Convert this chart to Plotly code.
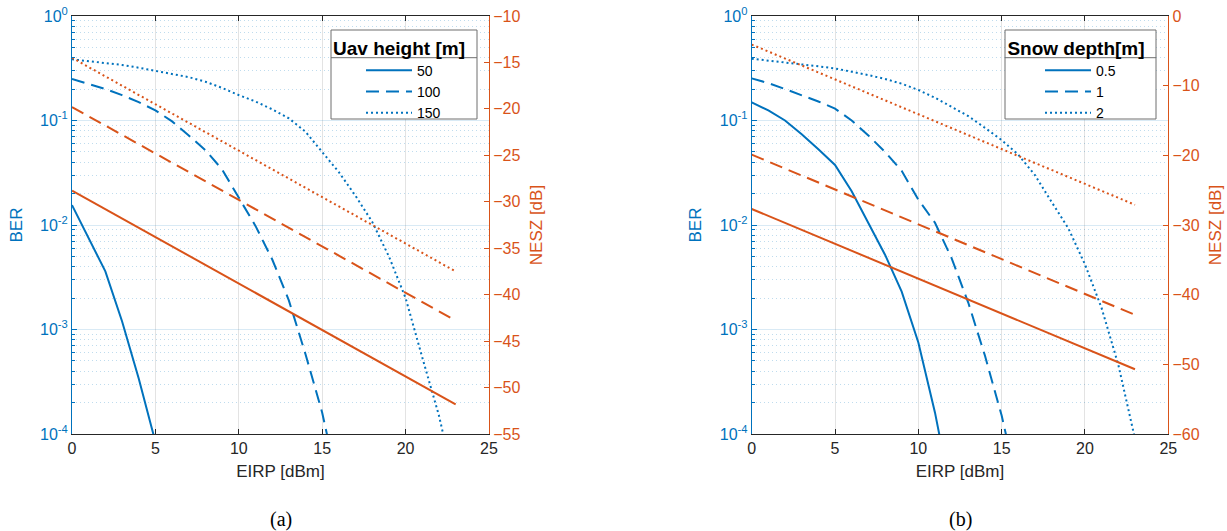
import plotly.graph_objects as go

# ---------------- data ----------------
eirp = list(range(0, 24))

# Panel (a): UAV height
a_labels = ["50", "100", "150"]
a_ber_50 = [0.0155, 0.0076, 0.0036, 0.0012, 3.4e-4, 8.4e-5]
a_ber_100 = [0.25, 0.225, 0.2, 0.175, 0.15, 0.125, 0.098, 0.072, 0.052, 0.034,
             0.018, 0.0098, 0.0047, 0.0019, 5.8e-4, 1.6e-4, 3e-5]
a_ber_150 = [0.385, 0.37, 0.355, 0.34, 0.32, 0.30, 0.28, 0.26, 0.235, 0.205,
             0.175, 0.152, 0.128, 0.105, 0.078, 0.05, 0.032, 0.019, 0.0107, 0.005,
             0.002, 5.4e-4, 1.5e-4, 3e-5]
a_nesz_50 = [-28.8, -29.8, -30.8, -31.8, -32.8, -33.8, -34.8, -35.8, -36.8, -37.8,
             -38.8, -39.8, -40.8, -41.8, -42.8, -43.8, -44.8, -45.8, -46.8, -47.8,
             -48.8, -49.8, -50.8, -51.8]
a_nesz_100 = [-19.8, -20.8, -21.8, -22.8, -23.8, -24.8, -25.8, -26.8, -27.8, -28.8,
              -29.8, -30.8, -31.8, -32.8, -33.8, -34.8, -35.8, -36.8, -37.8, -38.8,
              -39.8, -40.8, -41.8, -42.8]
a_nesz_150 = [-14.5, -15.5, -16.5, -17.5, -18.5, -19.5, -20.5, -21.5, -22.5, -23.5,
              -24.5, -25.5, -26.5, -27.5, -28.5, -29.5, -30.5, -31.5, -32.5, -33.5,
              -34.5, -35.5, -36.5, -37.5]

# Panel (b): snow depth
b_labels = ["0.5", "1", "2"]
b_ber_05 = [0.149, 0.125, 0.1, 0.074, 0.053, 0.0375, 0.021, 0.0105, 0.0052, 0.0023,
            7.5e-4, 1.6e-4, 2.5e-5]
b_ber_1 = [0.253, 0.228, 0.2, 0.175, 0.152, 0.13, 0.1, 0.072, 0.05, 0.033,
           0.0175, 0.0105, 0.0048, 0.0018, 5.6e-4, 1.5e-4, 3e-5]
b_ber_2 = [0.39, 0.375, 0.36, 0.345, 0.33, 0.315, 0.295, 0.272, 0.25, 0.225,
           0.196, 0.165, 0.135, 0.11, 0.085, 0.065, 0.047, 0.03, 0.0166, 0.0093,
           0.0042, 0.0016, 4.6e-4, 9e-5]
b_nesz_05 = [-27.7, -28.7, -29.7, -30.7, -31.7, -32.7, -33.7, -34.7, -35.7, -36.7,
             -37.7, -38.7, -39.7, -40.7, -41.7, -42.7, -43.7, -44.7, -45.7, -46.7,
             -47.7, -48.7, -49.7, -50.7]
b_nesz_1 = [-19.9, -20.9, -21.9, -22.9, -23.9, -24.9, -25.9, -26.9, -27.9, -28.9,
            -29.9, -30.9, -31.9, -32.9, -33.9, -34.9, -35.9, -36.9, -37.9, -38.9,
            -39.9, -40.9, -41.9, -42.9]
b_nesz_2 = [-4.1, -5.1, -6.1, -7.1, -8.1, -9.1, -10.1, -11.1, -12.1, -13.1,
            -14.1, -15.1, -16.1, -17.1, -18.1, -19.1, -20.1, -21.1, -22.1, -23.1,
            -24.1, -25.1, -26.1, -27.1]

ber_ticks = [1e-4, 1e-3, 1e-2, 1e-1, 1]
ber_ticktext = ["10<sup>-4</sup>", "10<sup>-3</sup>", "10<sup>-2</sup>", "10<sup>-1</sup>", "10<sup>0</sup>"]
a_nesz_ticks = [-55, -50, -45, -40, -35, -30, -25, -20, -15, -10]
b_nesz_ticks = [-60, -50, -40, -30, -20, -10, 0]
x_ticks = [0, 5, 10, 15, 20, 25]

# ---------------- style ----------------
BLUE = "#0072BD"
ORANGE = "#D95319"
DARK = "#262626"
FONT = "Liberation Sans, Arial, Helvetica, sans-serif"
DASHES = ["solid", "13px,7px", "2px,3px"]
LW = 2

minor_vals = [m * 10 ** e for e in range(-4, 0) for m in range(2, 10)]

fig = go.Figure()

def add_panel(xa, ya_l, ya_r, legend_name, labels, bers, neszs):
    for lab, ber, dash in zip(labels, bers, DASHES):
        fig.add_trace(go.Scatter(
            x=eirp[:len(ber)], y=ber, mode="lines", name=lab,
            line=dict(color=BLUE, width=LW, dash=dash),
            xaxis=xa, yaxis=ya_l, legend=legend_name, showlegend=True))
    for nesz, dash in zip(neszs, DASHES):
        fig.add_trace(go.Scatter(
            x=eirp[:len(nesz)], y=nesz, mode="lines",
            line=dict(color=ORANGE, width=LW, dash=dash),
            xaxis=xa, yaxis=ya_r, showlegend=False))

add_panel("x", "y", "y2", "legend", a_labels,
          [a_ber_50, a_ber_100, a_ber_150], [a_nesz_50, a_nesz_100, a_nesz_150])
add_panel("x2", "y3", "y4", "legend2", b_labels,
          [b_ber_05, b_ber_1, b_ber_2], [b_nesz_05, b_nesz_1, b_nesz_2])

W, H = 1227, 531
YDOM = [1 - 434 / H, 1 - 16 / H]
XDOM_A = [72 / W, 489 / W]
XDOM_B = [751.7 / W, 1168.3 / W]

def xaxis_cfg(domain, anchor):
    return dict(
        domain=domain, anchor=anchor, range=[0, 25], tickvals=x_ticks,
        automargin=False,
        showline=True, linecolor=DARK, linewidth=1, mirror="ticks",
        ticks="inside", ticklen=5, tickcolor=DARK,
        showgrid=True, gridcolor="rgba(38,38,38,0.13)", gridwidth=1,
        zeroline=False,
        tickfont=dict(family=FONT, size=16, color=DARK),
        title=dict(text="EIRP [dBm]", font=dict(family=FONT, size=17, color=DARK), standoff=8),
    )

def ber_axis_cfg(domain, anchor):
    return dict(
        domain=domain, anchor=anchor, type="log", range=[-4, 0],
        automargin=False,
        tickmode="array", tickvals=ber_ticks, ticktext=ber_ticktext,
        showline=True, linecolor=BLUE, linewidth=1,
        ticks="inside", ticklen=5, tickcolor=BLUE,
        showgrid=True, gridcolor="rgba(0,114,189,0.15)", gridwidth=1,
        minor=dict(tickmode="array", tickvals=minor_vals, ticks="inside", ticklen=3,
                   tickcolor=BLUE, showgrid=True, gridcolor="rgba(0,114,189,0.25)",
                   griddash="1px,3px", gridwidth=1),
        zeroline=False,
        tickfont=dict(family=FONT, size=16, color=BLUE),
        title=dict(text="BER", font=dict(family=FONT, size=17, color=BLUE), standoff=13),
    )

def nesz_axis_cfg(overlay, anchor, rng, ticks):
    return dict(
        overlaying=overlay, anchor=anchor, side="right", range=rng,
        automargin=False,
        tickvals=ticks, showline=True, linecolor=ORANGE, linewidth=1,
        ticks="inside", ticklen=5, tickcolor=ORANGE, showgrid=False, zeroline=False,
        tickfont=dict(family=FONT, size=16, color=ORANGE),
        title=dict(text="NESZ [dB]", font=dict(family=FONT, size=17, color=ORANGE), standoff=10),
    )

def legend_cfg(x_left, title, indent):
    return dict(
        x=x_left / W, y=1 - 30 / H,
        bgcolor="rgba(0,0,0,0)", borderwidth=0,
        font=dict(family=FONT, size=14, color="black"),
        xanchor="left", yanchor="top", tracegroupgap=0, itemwidth=46,
        indentation=indent,
        title=dict(text="<b>" + title + "</b>", side="top center",
                   font=dict(family=FONT, size=19, color="black")),
    )

LEG_A = (331, 477)
LEG_B = (1005, 1156)

fig.update_layout(
    width=W, height=H, autosize=False, margin=dict(l=0, r=0, t=0, b=0, pad=0),
    paper_bgcolor="white", plot_bgcolor="white",
    xaxis=xaxis_cfg(XDOM_A, "y"),
    yaxis=ber_axis_cfg(YDOM, "x"),
    yaxis2=nesz_axis_cfg("y", "x", [-55, -10], a_nesz_ticks),
    xaxis2=xaxis_cfg(XDOM_B, "y3"),
    yaxis3=ber_axis_cfg(YDOM, "x2"),
    yaxis4=nesz_axis_cfg("y3", "x2", [-60, 0], b_nesz_ticks),
    legend=legend_cfg(LEG_A[0], "Uav height [m]", 30),
    legend2=legend_cfg(LEG_B[0], "Snow depth[m]", 35),
    showlegend=True,
)

# legend frames (white box + separator line under the title)
for x0, x1 in [LEG_A, LEG_B]:
    fig.add_shape(type="rect", xref="paper", yref="paper", layer="above",
                  x0=x0 / W, x1=x1 / W, y0=1 - 119 / H, y1=1 - 30 / H,
                  fillcolor="white", line=dict(color="#6e6e6e", width=1))
    fig.add_shape(type="line", xref="paper", yref="paper", layer="above",
                  x0=x0 / W, x1=x1 / W, y0=1 - 57.7 / H, y1=1 - 57.7 / H,
                  line=dict(color="#6e6e6e", width=1))

# captions
for txt, xc in [("(a)", 280.5), ("(b)", 960)]:
    fig.add_annotation(text=txt, x=xc / W, y=1 - 519 / H, xref="paper", yref="paper",
                       showarrow=False, xanchor="center", yanchor="middle",
                       font=dict(family="Liberation Serif, Times New Roman, serif", size=20, color="black"))

fig.write_html(
    "out.html",
    config={"displayModeBar": False, "responsive": False},
    post_script="document.documentElement.style.overflow='hidden';"
                "document.body.style.margin='0';document.body.style.overflow='hidden';",
)
